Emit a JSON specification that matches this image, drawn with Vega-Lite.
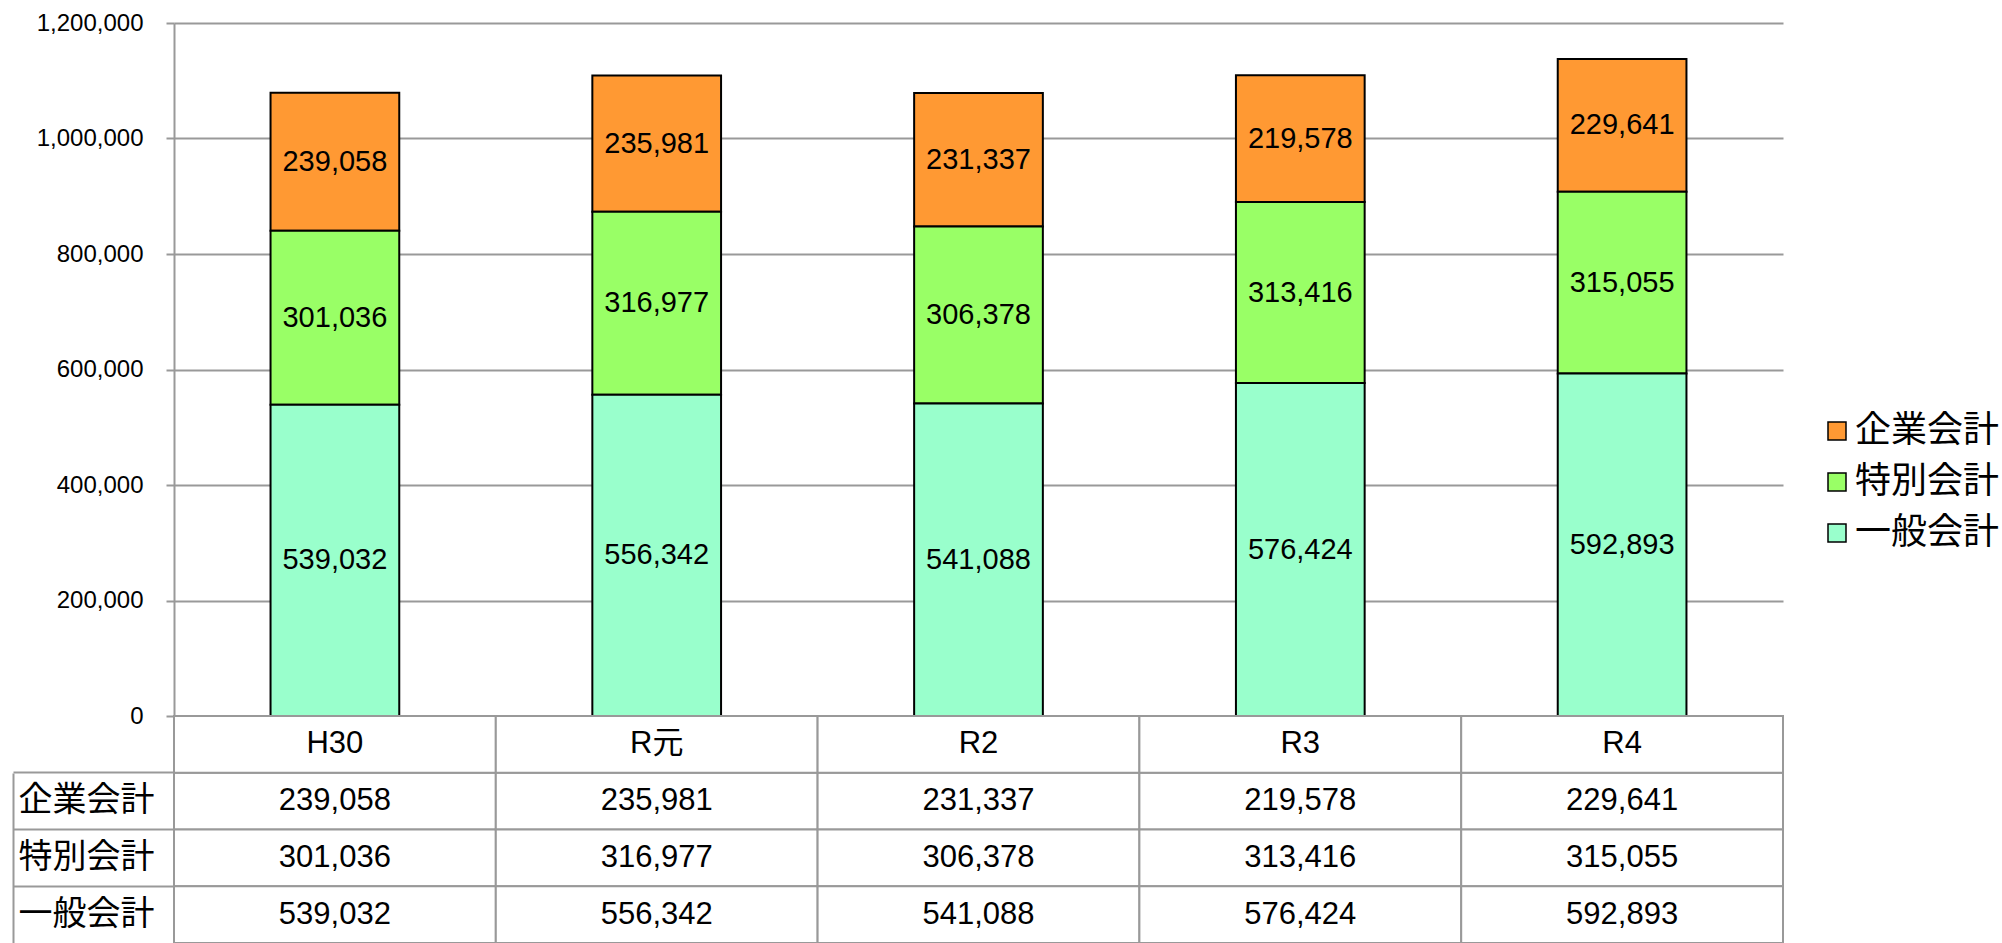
{
  "$schema": "https://vega.github.io/schema/vega-lite/v6.json",
  "background": "white",
  "padding": {"left": 12, "top": 11, "right": 0, "bottom": 0},
  "autosize": {"type": "pad"},
  "config": {"view": {"stroke": null}},
  "spacing": 0,
  "bounds": "flush",
  "data": {
    "values": [
      {"year": "H30", "account": "企業会計", "value": 239058},
      {"year": "H30", "account": "特別会計", "value": 301036},
      {"year": "H30", "account": "一般会計", "value": 539032},
      {"year": "R元", "account": "企業会計", "value": 235981},
      {"year": "R元", "account": "特別会計", "value": 316977},
      {"year": "R元", "account": "一般会計", "value": 556342},
      {"year": "R2", "account": "企業会計", "value": 231337},
      {"year": "R2", "account": "特別会計", "value": 306378},
      {"year": "R2", "account": "一般会計", "value": 541088},
      {"year": "R3", "account": "企業会計", "value": 219578},
      {"year": "R3", "account": "特別会計", "value": 313416},
      {"year": "R3", "account": "一般会計", "value": 576424},
      {"year": "R4", "account": "企業会計", "value": 229641},
      {"year": "R4", "account": "特別会計", "value": 315055},
      {"year": "R4", "account": "一般会計", "value": 592893}
    ]
  },
  "resolve": {"legend": {"color": "independent"}},
  "vconcat": [
    {
      "width": 1609,
      "height": 693,
      "transform": [
        {"calculate": "indexof(['一般会計','特別会計','企業会計'], datum.account)", "as": "ord"},
        {"stack": "value", "groupby": ["year"], "sort": [{"field": "ord", "order": "ascending"}], "as": ["v0", "v1"]},
        {"calculate": "(datum.v0 + datum.v1) / 2", "as": "mid"}
      ],
      "encoding": {
        "x": {
          "field": "year", "type": "nominal",
          "sort": ["H30", "R元", "R2", "R3", "R4"],
          "scale": {"paddingInner": 0.6, "paddingOuter": 0.3},
          "axis": null
        }
      },
      "layer": [
        {
          "mark": {"type": "bar", "stroke": "black", "strokeWidth": 2},
          "encoding": {
            "y": {
              "field": "v0", "type": "quantitative", "title": null,
              "scale": {"domain": [0, 1200000], "nice": false},
              "axis": {
                "values": [0, 200000, 400000, 600000, 800000, 1000000, 1200000],
                "format": ",d",
                "labelFont": "Liberation Sans",
                "labelFontSize": 24,
                "labelColor": "black",
                "labelPadding": 23,
                "tickSize": 8,
                "tickColor": "#999999",
                "tickWidth": 2,
                "domainColor": "#999999",
                "domainWidth": 2,
                "grid": true,
                "gridColor": "#999999",
                "gridWidth": 2
              }
            },
            "y2": {"field": "v1"},
            "color": {
              "field": "account", "type": "nominal",
              "scale": {"domain": ["企業会計", "特別会計", "一般会計"], "range": ["#FF9933", "#99FF66", "#99FFCC"]},
              "legend": {
                "title": null,
                "orient": "none",
                "legendX": 1645,
                "legendY": 390,
                "padding": 0,
                "symbolType": "square",
                "symbolSize": 324,
                "symbolStrokeColor": "black",
                "symbolStrokeWidth": 1.5,
                "symbolOpacity": 1,
                "labelFont": "Noto Sans CJK JP",
                "labelFontSize": 36,
                "labelColor": "black",
                "labelOffset": 0,
                "rowPadding": 15,
                "labelLimit": 400
              }
            }
          }
        },
        {
          "mark": {"type": "text", "font": "Liberation Sans", "fontSize": 29, "color": "black", "baseline": "middle"},
          "encoding": {
            "y": {"field": "mid", "type": "quantitative"},
            "text": {"field": "value", "type": "quantitative", "format": ",d"}
          }
        }
      ]
    },
    {
      "width": 1609,
      "height": 227,
      "encoding": {
        "x": {
          "field": "year", "type": "nominal",
          "sort": ["H30", "R元", "R2", "R3", "R4"],
          "scale": {"paddingInner": 0, "paddingOuter": 0},
          "axis": null
        }
      },
      "layer": [
        {
          "mark": {"type": "rect", "fill": "white", "stroke": "#999999", "strokeWidth": 2},
          "encoding": {
            "y": {
              "field": "account", "type": "nominal", "title": null,
              "scale": {"domain": ["hdr", "企業会計", "特別会計", "一般会計"], "paddingInner": 0, "paddingOuter": 0},
              "axis": {
                "values": ["企業会計", "特別会計", "一般会計"],
                "offset": 161,
                "domainColor": "#999999",
                "domainWidth": 2,
                "domainDash": [0, 57, 400],
                "ticks": true,
                "tickSize": -161,
                "tickColor": "#999999",
                "tickWidth": 2,
                "bandPosition": 0,
                "labelFont": "Noto Sans CJK JP",
                "labelFontSize": 34,
                "labelColor": "black",
                "labelAlign": "left",
                "labelBaseline": "middle",
                "labelPadding": 156,
                "labelLimit": 300
              }
            }
          }
        },
        {
          "transform": [{"filter": "datum.account === '一般会計'"}],
          "mark": {"type": "rect", "fill": "white", "stroke": "#999999", "strokeWidth": 2},
          "encoding": {
            "y": {"datum": "hdr", "type": "nominal", "title": null}
          }
        },
        {
          "mark": {"type": "text", "font": "Liberation Sans", "fontSize": 31, "color": "black", "baseline": "middle"},
          "encoding": {
            "y": {"field": "account", "type": "nominal", "title": null},
            "text": {"field": "value", "type": "quantitative", "format": ",d"}
          }
        },
        {
          "transform": [{"filter": "datum.account === '一般会計'"}],
          "mark": {"type": "text", "font": "Liberation Sans, Noto Sans CJK JP", "fontSize": 31, "color": "black", "baseline": "middle"},
          "encoding": {
            "y": {"datum": "hdr", "type": "nominal", "title": null},
            "text": {"field": "year", "type": "nominal"}
          }
        }
      ]
    }
  ]
}
